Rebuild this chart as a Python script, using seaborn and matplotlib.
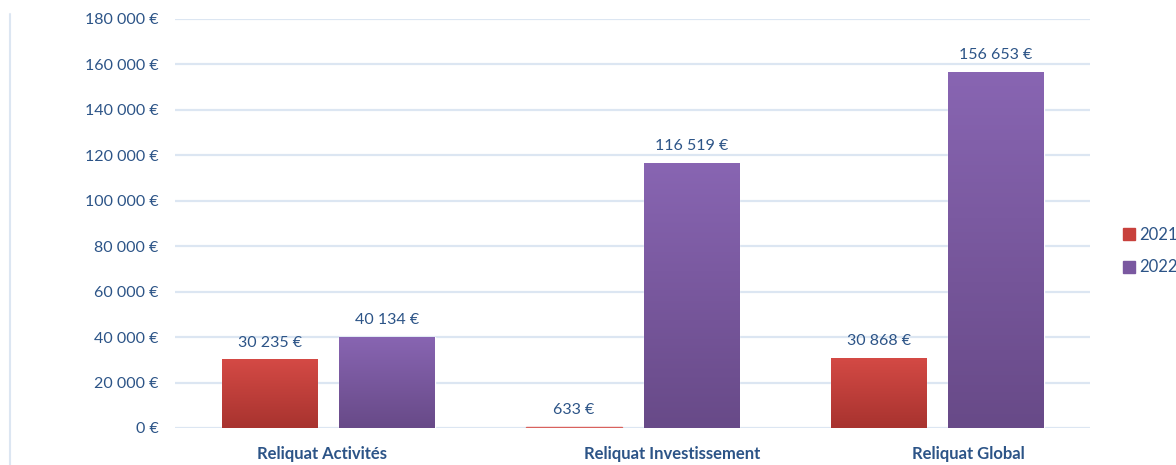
import numpy as np
import pandas as pd
import seaborn as sns
import matplotlib.pyplot as plt
import matplotlib.transforms as mtransforms
from matplotlib.colors import LinearSegmentedColormap
from matplotlib.lines import Line2D

categories = ["Reliquat Activités", "Reliquat Investissement", "Reliquat Global"]
years = ["2021", "2022"]
values_2021 = [30235, 633, 30868]
values_2022 = [40134, 116519, 156653]

df = pd.DataFrame({
    "categorie": categories * 2,
    "annee": [years[0]] * 3 + [years[1]] * 3,
    "montant": values_2021 + values_2022,
})

sns.set_style("white")
plt.rcParams["font.family"] = ["Lato", "DejaVu Sans"]

text_col = "#2c5487"
palette = {"2021": "#c8413c", "2022": "#7a58a0"}
grads = {"2021": ("#a8332f", "#d44a45"), "2022": ("#684a88", "#8865b2")}

fig = plt.figure(figsize=(11.76, 4.65), dpi=100)
ax = fig.add_axes([0.149, 0.0796, 0.778, 0.8796])

sns.barplot(data=df, x="categorie", y="montant", hue="annee", palette=palette,
            width=0.77, gap=0.185, ax=ax, legend=False, zorder=3)

ax.set_yticks(np.arange(0, 180001, 20000))
ax.set_yticklabels([f"{int(v):,}".replace(",", " ") + " €" for v in np.arange(0, 180001, 20000)])
ax.yaxis.grid(True, color="#dce6f2", lw=1.6, zorder=0)
ax.set_axisbelow(True)
for s in ax.spines.values():
    s.set_visible(False)
ax.set_xlabel("")
ax.set_ylabel("")
ax.tick_params(axis="y", length=0, pad=12, labelsize=11.5, labelcolor=text_col)
ax.tick_params(axis="x", length=0, pad=13, labelsize=12, labelcolor=text_col)
# Excel placed category labels slightly off the bar centres
for lab, dx in zip(ax.get_xticklabels(), [-6, 39, 31]):
    lab.set_fontweight("bold")
    lab.set_transform(lab.get_transform() + mtransforms.ScaledTranslation(dx / 100, 0, fig.dpi_scale_trans))

# gradient fill on bars + value labels
for cont, yr in zip(ax.containers, years):
    cmap = LinearSegmentedColormap.from_list(yr, grads[yr])
    for bar, v in zip(cont.patches, df[df.annee == yr]["montant"]):
        x0, w, h = bar.get_x(), bar.get_width(), bar.get_height()
        if h > 5000:
            im = ax.imshow(np.linspace(0, 1, 100).reshape(-1, 1), cmap=cmap, origin="lower",
                           extent=[x0, x0 + w, 0, h], aspect="auto", zorder=3)
            im.set_clip_path(bar)
            bar.set_facecolor("none")
        else:
            bar.set_facecolor("#d9625d")
            bar.set_edgecolor("#d9625d")
            bar.set_linewidth(1)
            bar.set_zorder(4)
        ax.annotate(f"{v:,}".replace(",", " ") + " €", (x0 + w / 2, h),
                    xytext=(0, 7), textcoords="offset points", ha="center", va="bottom",
                    fontsize=11.5, color=text_col)
ax.set_ylim(0, 180000)
ax.set_xlim(-0.5025, 2.5025)

# legend
handles = [Line2D([], [], marker="s", ls="", color=palette[y], markersize=8) for y in years]
fig.legend(handles, years, loc="center left", bbox_to_anchor=(0.94, 0.46), frameon=False,
           fontsize=12, labelcolor=text_col, handletextpad=0.1, labelspacing=1.0,
           handlelength=1.0)

fig.add_artist(Line2D([0.0085, 0.0085], [0.0, 0.97], transform=fig.transFigure,
                      color="#dce6f2", lw=1.5))

fig.savefig("out.png", dpi=100)
